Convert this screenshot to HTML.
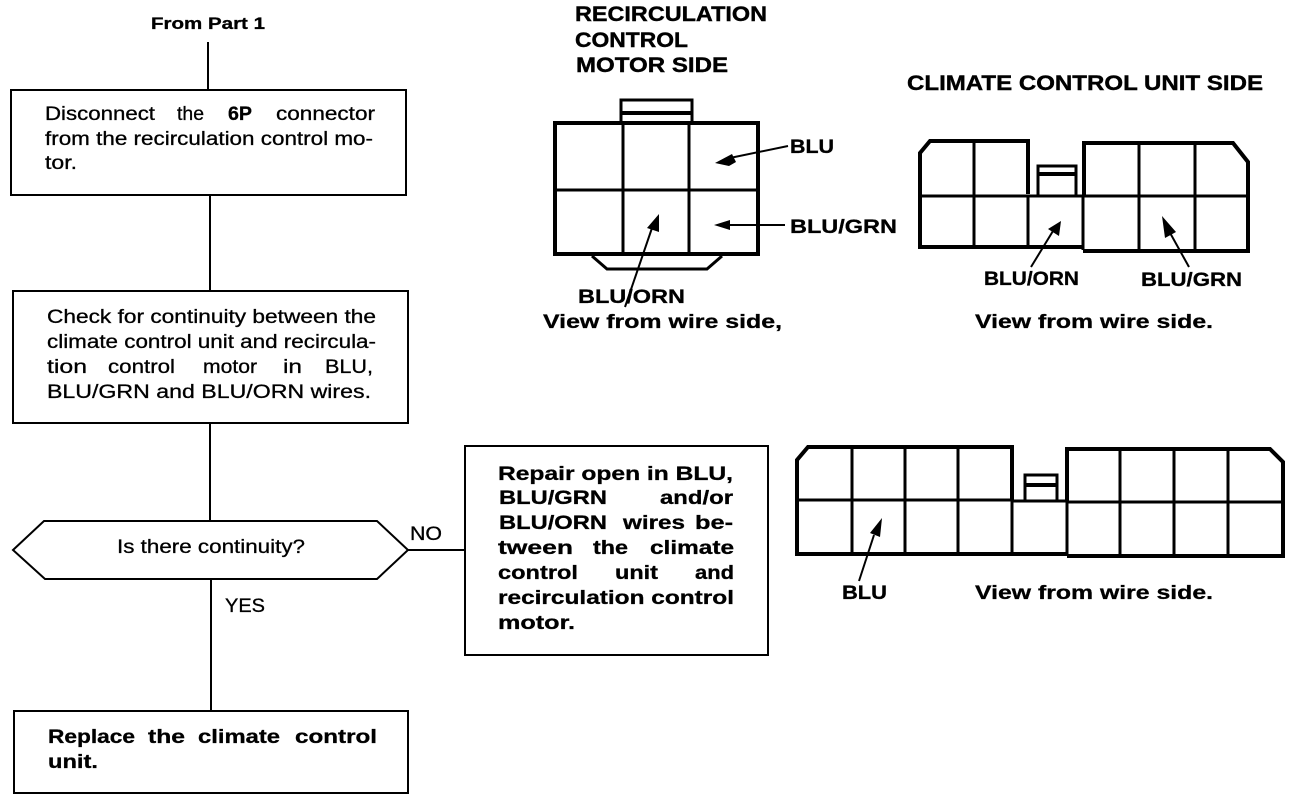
<!DOCTYPE html>
<html>
<head>
<meta charset="utf-8">
<style>
html,body{margin:0;padding:0;background:#fff}
svg{display:block}
text{font-family:"Liberation Sans",sans-serif;fill:#000}
.n{font-size:19px;stroke:#000;stroke-width:.3px}
.b{font-size:19px;font-weight:bold;stroke:#000;stroke-width:.3px}
.h{font-size:21px;font-weight:bold;stroke:#000;stroke-width:.4px}
.l{fill:none;stroke:#000;stroke-width:2}
.t{fill:none;stroke:#000;stroke-width:4}
.m{fill:none;stroke:#000;stroke-width:3}
</style>
</head>
<body>
<svg width="1296" height="800" viewBox="0 0 1296 800" xmlns="http://www.w3.org/2000/svg">
<rect width="1296" height="800" fill="#fff"/>

<!-- flowchart -->
<g class="l">
<path d="M208 42V90"/><path d="M210 195V291"/><path d="M210 423V521"/><path d="M211 579V711"/><path d="M408 550H465"/>
<rect x="11" y="90" width="395" height="105"/>
<rect x="13" y="291" width="395" height="132"/>
<path d="M13 550L44 521H377L408 550L377 579H45Z"/>
<rect x="14" y="711" width="394" height="82"/>
<rect x="465" y="446" width="303" height="209"/>
</g>

<text x="151" y="29" class="b" style="font-size:17px" textLength="114" lengthAdjust="spacingAndGlyphs">From Part 1</text>

<text x="45" y="120" class="n" textLength="110" lengthAdjust="spacingAndGlyphs">Disconnect</text>
<text x="177" y="120" class="n" textLength="27" lengthAdjust="spacingAndGlyphs">the</text>
<text x="228" y="120" class="b" textLength="24" lengthAdjust="spacingAndGlyphs">6P</text>
<text x="276" y="120" class="n" textLength="99" lengthAdjust="spacingAndGlyphs">connector</text>
<text x="45" y="145" class="n" textLength="328" lengthAdjust="spacingAndGlyphs">from the recirculation control mo-</text>
<text x="45" y="169" class="n" textLength="32" lengthAdjust="spacingAndGlyphs">tor.</text>

<text x="47" y="323" class="n" textLength="329" lengthAdjust="spacingAndGlyphs">Check for continuity between the</text>
<text x="47" y="348" class="n" textLength="329" lengthAdjust="spacingAndGlyphs">climate control unit and recircula-</text>
<text x="47" y="373" class="n" textLength="40" lengthAdjust="spacingAndGlyphs">tion</text>
<text x="108" y="373" class="n" textLength="67" lengthAdjust="spacingAndGlyphs">control</text>
<text x="203" y="373" class="n" textLength="54" lengthAdjust="spacingAndGlyphs">motor</text>
<text x="283" y="373" class="n" textLength="19" lengthAdjust="spacingAndGlyphs">in</text>
<text x="325" y="373" class="n" textLength="48" lengthAdjust="spacingAndGlyphs">BLU,</text>
<text x="47" y="398" class="n" textLength="324" lengthAdjust="spacingAndGlyphs">BLU/GRN and BLU/ORN wires.</text>

<text x="117" y="553" class="n" textLength="188" lengthAdjust="spacingAndGlyphs">Is there continuity?</text>
<text x="410" y="540" class="n" textLength="32" lengthAdjust="spacingAndGlyphs">NO</text>
<text x="225" y="612" class="n" textLength="40" lengthAdjust="spacingAndGlyphs">YES</text>

<text x="48" y="743" class="b" textLength="87" lengthAdjust="spacingAndGlyphs">Replace</text>
<text x="148" y="743" class="b" textLength="37" lengthAdjust="spacingAndGlyphs">the</text>
<text x="198" y="743" class="b" textLength="82" lengthAdjust="spacingAndGlyphs">climate</text>
<text x="295" y="743" class="b" textLength="82" lengthAdjust="spacingAndGlyphs">control</text>
<text x="48" y="768" class="b" textLength="50" lengthAdjust="spacingAndGlyphs">unit.</text>

<text x="498" y="480" class="b" textLength="235" lengthAdjust="spacingAndGlyphs">Repair open in BLU,</text>
<text x="499" y="504" class="b" textLength="108" lengthAdjust="spacingAndGlyphs">BLU/GRN</text>
<text x="660" y="504" class="b" textLength="73" lengthAdjust="spacingAndGlyphs">and/or</text>
<text x="499" y="529" class="b" textLength="108" lengthAdjust="spacingAndGlyphs">BLU/ORN</text>
<text x="623" y="529" class="b" textLength="62" lengthAdjust="spacingAndGlyphs">wires</text>
<text x="695" y="529" class="b" textLength="38" lengthAdjust="spacingAndGlyphs">be-</text>
<text x="498" y="554" class="b" textLength="75" lengthAdjust="spacingAndGlyphs">tween</text>
<text x="593" y="554" class="b" textLength="35" lengthAdjust="spacingAndGlyphs">the</text>
<text x="650" y="554" class="b" textLength="84" lengthAdjust="spacingAndGlyphs">climate</text>
<text x="498" y="579" class="b" textLength="80" lengthAdjust="spacingAndGlyphs">control</text>
<text x="615" y="579" class="b" textLength="43" lengthAdjust="spacingAndGlyphs">unit</text>
<text x="695" y="579" class="b" textLength="39" lengthAdjust="spacingAndGlyphs">and</text>
<text x="498" y="604" class="b" textLength="236" lengthAdjust="spacingAndGlyphs">recirculation control</text>
<text x="498" y="629" class="b" textLength="77" lengthAdjust="spacingAndGlyphs">motor.</text>

<!-- headers -->
<text x="575" y="21" class="h" textLength="192" lengthAdjust="spacingAndGlyphs">RECIRCULATION</text>
<text x="575" y="47" class="h" textLength="113" lengthAdjust="spacingAndGlyphs">CONTROL</text>
<text x="576" y="72" class="h" textLength="152" lengthAdjust="spacingAndGlyphs">MOTOR SIDE</text>
<text x="907" y="90" class="h" textLength="356" lengthAdjust="spacingAndGlyphs">CLIMATE CONTROL UNIT SIDE</text>

<!-- connector 1 -->
<g>
<path class="t" d="M555 123H758V254H555Z"/>
<path class="m" d="M621 123V100H692V123"/>
<path class="t" d="M621 113H692"/>
<path class="m" d="M623 123V254M689 123V254"/>
<path class="m" d="M555 190H758"/>
<path class="m" d="M592 256L607 269H707L722 256"/>
<path class="l" d="M788 146L725 159"/>
<path d="M715 163L732 154L736 162L729 166Z" fill="#000"/>
<path class="l" d="M785 225H725"/>
<path d="M714 225L730 220V230Z" fill="#000"/>
<path class="l" d="M625 307L652 228"/>
<path d="M659 214L659 232L647 228Z" fill="#000"/>
</g>
<text x="790" y="153" class="b" textLength="44" lengthAdjust="spacingAndGlyphs">BLU</text>
<text x="790" y="233" class="b" textLength="107" lengthAdjust="spacingAndGlyphs">BLU/GRN</text>
<text x="578" y="303" class="b" textLength="107" lengthAdjust="spacingAndGlyphs">BLU/ORN</text>
<text x="543" y="328" class="b" textLength="239" lengthAdjust="spacingAndGlyphs">View from wire side,</text>

<!-- connector 2 -->
<g>
<path class="t" d="M1028 194V141H930L920 153V247H1083"/>
<path class="t" d="M1083 251H1248V162L1233 143H1084V196"/>
<path class="m" d="M920 196H1248"/>
<path class="m" d="M974 141V247M1028 196V247M1083 196V250M1139 143V251M1195 143V251"/>
<path class="m" d="M1038 195V166H1076V195"/>
<path class="t" d="M1038 174H1076"/>
<path class="l" d="M1031 267L1053 231"/>
<path d="M1061 221L1059 236L1048 229Z" fill="#000"/>
<path class="l" d="M1189 267L1169 231"/>
<path d="M1162 216L1176 232L1165 238Z" fill="#000"/>
</g>
<text x="984" y="285" class="b" textLength="95" lengthAdjust="spacingAndGlyphs">BLU/ORN</text>
<text x="1141" y="286" class="b" textLength="101" lengthAdjust="spacingAndGlyphs">BLU/GRN</text>
<text x="975" y="328" class="b" textLength="238" lengthAdjust="spacingAndGlyphs">View from wire side.</text>

<!-- connector 3 -->
<g>
<path class="t" d="M1012 500V447H808L797 460V554H1067"/>
<path class="t" d="M1067 556H1283V462L1270 449H1067V502"/>
<path class="m" d="M797 500H1012V501H1067V502H1283"/>
<path class="m" d="M852 447V554M905 447V554M958 447V554M1012 500V554M1067 502V556M1120 449V556M1174 449V556M1228 449V556"/>
<path class="m" d="M1025 500V475H1057V500"/>
<path class="t" d="M1025 485H1057"/>
<path class="l" d="M859 581L874 535"/>
<path d="M882 518L880 537L870 533Z" fill="#000"/>
</g>
<text x="842" y="599" class="b" textLength="45" lengthAdjust="spacingAndGlyphs">BLU</text>
<text x="975" y="599" class="b" textLength="238" lengthAdjust="spacingAndGlyphs">View from wire side.</text>
</svg>
</body>
</html>
